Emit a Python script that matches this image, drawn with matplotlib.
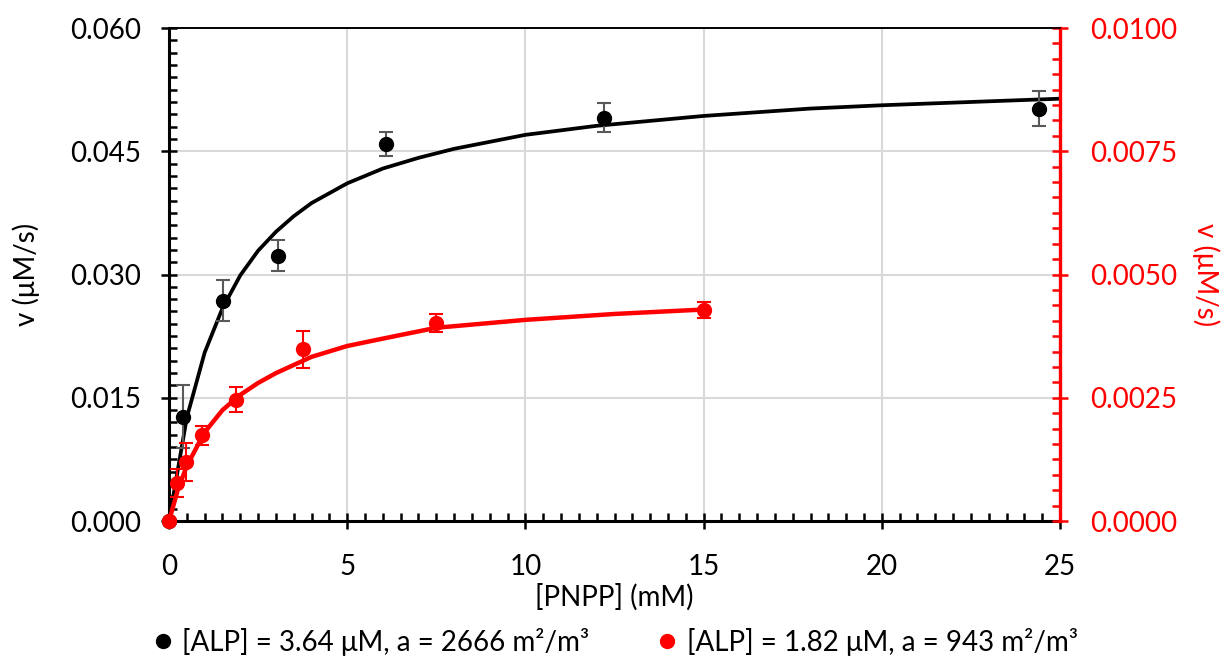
import matplotlib.pyplot as plt
from matplotlib.ticker import MultipleLocator, FormatStrFormatter
from matplotlib.lines import Line2D

plt.rcParams['font.family'] = ['Lato', 'DejaVu Sans']

# measured points, [ALP] = 3.64 uM (left axis)
x_siyah = [0, 0.38, 1.52, 3.05, 6.1, 12.2, 24.4]
y_siyah = [0, 0.0127, 0.0268, 0.0323, 0.0459, 0.0491, 0.0502]
h_siyah = [0, 0.0038, 0.0025, 0.0019, 0.0015, 0.0018, 0.0021]

# fit line (left axis)
xf_siyah = [0, 0.5, 1, 1.5, 2, 2.5, 3, 3.5, 4, 5, 6, 7, 8, 10, 12, 15, 18, 20, 25]
yf_siyah = [0, 0.0126, 0.0205, 0.0259, 0.0299, 0.0329, 0.0352, 0.0371, 0.0387, 0.0411,
            0.0429, 0.0442, 0.0453, 0.0470, 0.0481, 0.0493, 0.0502, 0.0506, 0.0514]

# measured points, [ALP] = 1.82 uM (right axis)
x_kirmizi = [0, 0.234, 0.469, 0.9375, 1.875, 3.75, 7.5, 15]
y_kirmizi = [0, 0.00077, 0.00120, 0.00174, 0.00246, 0.00348, 0.00402, 0.00428]
h_kirmizi = [0, 0.00029, 0.00038, 0.00019, 0.00025, 0.00038, 0.00018, 0.00017]

# fit line (right axis)
xf_kirmizi = [0, 0.25, 0.5, 1, 1.5, 2, 2.5, 3, 4, 5, 6, 7.5, 10, 12.5, 15]
yf_kirmizi = [0, 0.00064, 0.00112, 0.00180, 0.00225, 0.00256, 0.00280, 0.00300,
              0.00333, 0.00355, 0.00370, 0.00392, 0.00408, 0.00420, 0.00429]

etiket1 = "[ALP] = 3.64 μM, a = 2666 m²/m³"
etiket2 = "[ALP] = 1.82 μM, a = 943 m²/m³"

fig = plt.figure(figsize=(12.31, 6.58), dpi=100)
ax = fig.add_axes([0.1373, 0.2082, 0.7238, 0.7492])
ax2 = ax.twinx()

# grid
ax.set_axisbelow(True)
ax.grid(True, which="major", color="#d9d9d9", linewidth=1.5)

ax.plot(xf_siyah, yf_siyah, color="black", linewidth=2.7, zorder=2)
ax.errorbar(x_siyah, y_siyah, yerr=h_siyah, fmt="o", color="black", markersize=10,
            ecolor="#595959", elinewidth=1.5, capsize=5, capthick=1.5,
            zorder=3, clip_on=False)

ax2.plot(xf_kirmizi, yf_kirmizi, color="red", linewidth=3.2, zorder=2)
ax2.errorbar(x_kirmizi, y_kirmizi, yerr=h_kirmizi, fmt="o", color="red", markersize=10,
             ecolor="red", elinewidth=1.5, capsize=5, capthick=1.5,
             zorder=3, clip_on=False)

ax.set_xlim(0, 25)
ax.set_ylim(0, 0.060)
ax2.set_ylim(0, 0.0100)

ax.xaxis.set_major_locator(MultipleLocator(5))
ax.xaxis.set_minor_locator(MultipleLocator(0.5))
ax.yaxis.set_major_locator(MultipleLocator(0.015))
ax.yaxis.set_minor_locator(MultipleLocator(0.0015))
ax.yaxis.set_major_formatter(FormatStrFormatter("%.3f"))
ax2.yaxis.set_major_locator(MultipleLocator(0.0025))
ax2.yaxis.set_minor_locator(MultipleLocator(0.0025 / 8))
ax2.yaxis.set_major_formatter(FormatStrFormatter("%.4f"))

ax.tick_params(axis="both", which="major", direction="inout", length=12, width=1.8,
               labelsize=20)
ax.tick_params(axis="y", which="major", pad=14)
ax.tick_params(axis="x", which="major", pad=18)
ax.tick_params(axis="both", which="minor", direction="in", length=6, width=1.8)
ax.tick_params(axis="y", which="both", right=False)
ax.tick_params(axis="x", which="both", top=False)

ax2.tick_params(axis="y", which="major", direction="inout", length=12, width=1.8,
                labelsize=20, colors="red", pad=16)
ax2.tick_params(axis="y", which="minor", direction="in", length=6, width=1.8, colors="red")

for s in ["left", "bottom"]:
    ax.spines[s].set_linewidth(2.2)
ax.spines["top"].set_linewidth(1.2)
ax.spines["right"].set_visible(False)
ax2.spines["right"].set_color("red")
ax2.spines["right"].set_linewidth(2.4)
ax2.spines["left"].set_visible(False)
ax2.spines["bottom"].set_visible(False)
ax2.spines["top"].set_linewidth(1.2)

ax.set_xlabel("[PNPP] (mM)", fontsize=20, labelpad=2)
ax.set_ylabel("v (μM/s)", fontsize=20, labelpad=22)
ax2.set_ylabel("v (μM/s)", fontsize=20, color="red", rotation=270, labelpad=30)

ogeler = [Line2D([], [], marker="o", linestyle="none", color="black", markersize=10),
          Line2D([], [], marker="o", linestyle="none", color="red", markersize=10)]
fig.legend(ogeler, [etiket1, etiket2], loc="lower center", bbox_to_anchor=(0.497, -0.035),
           ncol=2, frameon=False, fontsize=20, handletextpad=0.1, columnspacing=2.2,
           handlelength=1.2)

fig.savefig("out.png", dpi=100)
